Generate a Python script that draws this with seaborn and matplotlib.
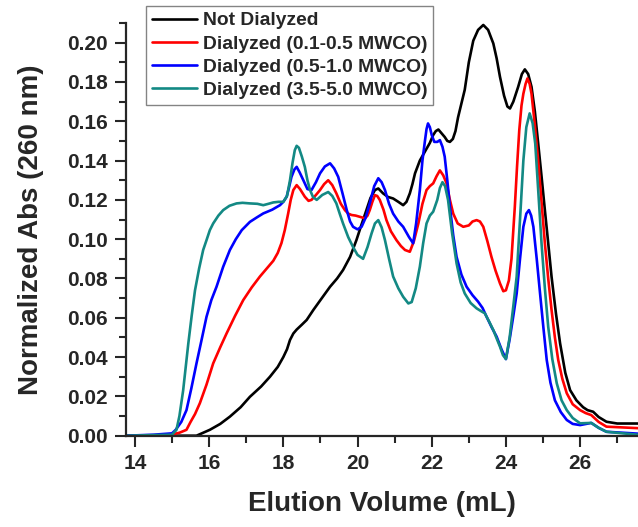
import numpy as np
import pandas as pd
import matplotlib
matplotlib.use("Agg")
import matplotlib.pyplot as plt
import seaborn as sns
from matplotlib.ticker import MultipleLocator, FormatStrFormatter

# ---- data ----
black_x = [13.76, 15.4, 15.66, 16.02, 16.3, 16.56, 16.85, 17.1, 17.4, 17.64, 17.85, 18.0, 18.1, 18.18,
           18.27, 18.36, 18.5, 18.63, 18.81, 19.0, 19.26, 19.45, 19.61, 19.8, 19.97, 20.1, 20.24, 20.35,
           20.47, 20.56, 20.69, 20.82, 20.96, 21.1, 21.23, 21.32, 21.41, 21.48, 21.55, 21.68, 21.77,
           21.86, 21.95, 22.04, 22.11, 22.18, 22.26, 22.35, 22.42, 22.49, 22.57, 22.64, 22.71, 22.8,
           22.89, 23.0, 23.12, 23.25, 23.39, 23.52, 23.66, 23.75, 23.84, 23.95, 24.04, 24.11, 24.2,
           24.33, 24.43, 24.51, 24.6, 24.69, 24.78, 24.87, 24.96, 25.05, 25.14, 25.23, 25.35, 25.46,
           25.6, 25.73, 25.9, 26.08, 26.2, 26.35, 26.5, 26.71, 27.0, 27.6]
black_y = [0, 0, 0, 0.003, 0.006, 0.0097, 0.0145, 0.0198, 0.025, 0.030, 0.035, 0.040, 0.044, 0.0487,
           0.052, 0.054, 0.0565, 0.0589, 0.064, 0.069, 0.0758, 0.080, 0.0843, 0.091, 0.0995, 0.107,
           0.1148, 0.121, 0.125, 0.1258, 0.1233, 0.1215, 0.1207, 0.119, 0.1173, 0.119, 0.1233, 0.128,
           0.1335, 0.140, 0.143, 0.146, 0.149, 0.153, 0.155, 0.1558, 0.154, 0.152, 0.150, 0.1495,
           0.151, 0.155, 0.162, 0.169, 0.176, 0.190, 0.201, 0.2065, 0.209, 0.2065, 0.1996, 0.192,
           0.1826, 0.173, 0.1675, 0.1665, 0.170, 0.1775, 0.184, 0.1864, 0.184, 0.1775, 0.165, 0.1487,
           0.132, 0.1148, 0.098, 0.0809, 0.062, 0.047, 0.032, 0.0232, 0.018, 0.0145, 0.013, 0.0122,
           0.0095, 0.0071, 0.0062, 0.0062]

red_x = [13.76, 15.0, 15.08, 15.2, 15.39, 15.5, 15.62, 15.75, 15.93, 16.11, 16.3, 16.47, 16.7, 16.92,
         17.15, 17.37, 17.55, 17.73, 17.85, 17.95, 18.04, 18.13, 18.2, 18.27, 18.36, 18.45, 18.58,
         18.68, 18.76, 18.88, 18.99, 19.1, 19.21, 19.32, 19.43, 19.55, 19.66, 19.75, 19.84, 19.95,
         20.06, 20.2, 20.27, 20.33, 20.4, 20.47, 20.53, 20.6, 20.7, 20.78, 20.9, 21.05, 21.17, 21.28,
         21.41, 21.52, 21.64, 21.75, 21.86, 21.95, 22.04, 22.13, 22.22, 22.31, 22.4, 22.49, 22.58,
         22.7, 22.85, 23.0, 23.1, 23.21, 23.3, 23.39, 23.5, 23.61, 23.72, 23.84, 23.93, 24.0, 24.08,
         24.15, 24.24, 24.3, 24.36, 24.42, 24.47, 24.53, 24.58, 24.64, 24.69, 24.78, 24.87, 24.96,
         25.05, 25.14, 25.23, 25.32, 25.41, 25.52, 25.64, 25.8, 26.0, 26.15, 26.3, 26.5, 26.71, 27.6]
red_y = [0, 0, 0.001, 0.0015, 0.003, 0.007, 0.011, 0.0165, 0.026, 0.0368, 0.045, 0.052, 0.061, 0.069,
         0.0755, 0.081, 0.085, 0.089, 0.093, 0.098, 0.1046, 0.113, 0.120, 0.125, 0.1275, 0.1255,
         0.1216, 0.1195, 0.12, 0.1225, 0.125, 0.128, 0.130, 0.1275, 0.1233, 0.118, 0.1148, 0.113,
         0.1123, 0.112, 0.1114, 0.1106, 0.112, 0.1148, 0.119, 0.1224, 0.122, 0.12, 0.115, 0.1097,
         0.104, 0.0995, 0.0965, 0.0945, 0.0936, 0.099, 0.108, 0.118, 0.125, 0.127, 0.1284, 0.132,
         0.135, 0.1325, 0.1284, 0.120, 0.113, 0.108, 0.1063, 0.107, 0.109, 0.1097, 0.109, 0.1063,
         0.099, 0.091, 0.084, 0.0775, 0.0735, 0.074, 0.079, 0.090, 0.1165, 0.137, 0.1555, 0.168,
         0.174, 0.179, 0.1818, 0.179, 0.174, 0.158, 0.140, 0.119, 0.0979, 0.080, 0.064, 0.050, 0.0385,
         0.029, 0.0216, 0.016, 0.013, 0.0115, 0.0105, 0.007, 0.0046, 0.0038]

blue_x = [13.76, 14.5, 15.0, 15.1, 15.25, 15.39, 15.52, 15.66, 15.8, 15.93, 16.06, 16.2, 16.38, 16.56,
          16.72, 16.88, 17.1, 17.28, 17.46, 17.7, 17.91, 18.0, 18.09, 18.15, 18.22, 18.3, 18.36, 18.44,
          18.54, 18.65, 18.76, 18.88, 18.99, 19.12, 19.26, 19.37, 19.48, 19.6, 19.71, 19.8, 19.88,
          20.0, 20.11, 20.22, 20.33, 20.45, 20.56, 20.65, 20.74, 20.85, 20.96, 21.1, 21.23, 21.39,
          21.5, 21.58, 21.68, 21.75, 21.82, 21.86, 21.9, 21.95, 22.0, 22.07, 22.15, 22.22, 22.29,
          22.35, 22.42, 22.49, 22.58, 22.67, 22.8, 22.94, 23.1, 23.25, 23.37, 23.48, 23.62, 23.75,
          23.88, 24.0, 24.1, 24.2, 24.29, 24.38, 24.47, 24.55, 24.62, 24.68, 24.74, 24.83, 24.92,
          25.01, 25.1, 25.2, 25.32, 25.48, 25.64, 25.8, 26.0, 26.3, 26.5, 26.71, 27.6]
blue_y = [0, 0.0005, 0.0012, 0.003, 0.007, 0.013, 0.024, 0.0368, 0.049, 0.0605, 0.069, 0.0758, 0.086,
          0.0945, 0.100, 0.1046, 0.1088, 0.111, 0.1131, 0.115, 0.1173, 0.119, 0.1216, 0.126, 0.1317,
          0.1355, 0.1368, 0.134, 0.130, 0.1255, 0.125, 0.129, 0.1335, 0.137, 0.1386, 0.136, 0.1317,
          0.123, 0.1148, 0.109, 0.1063, 0.105, 0.1063, 0.111, 0.1182, 0.127, 0.131, 0.129, 0.125,
          0.118, 0.113, 0.109, 0.1063, 0.101, 0.0979, 0.108, 0.125, 0.140, 0.1504, 0.156, 0.1589,
          0.157, 0.153, 0.1495, 0.1495, 0.1504, 0.147, 0.142, 0.130, 0.1165, 0.102, 0.091, 0.082,
          0.0758, 0.0715, 0.0682, 0.065, 0.0605, 0.055, 0.0504, 0.044, 0.039, 0.049, 0.061, 0.0724,
          0.090, 0.1063, 0.113, 0.1148, 0.112, 0.1063, 0.090, 0.0724, 0.055, 0.0385, 0.027, 0.018,
          0.012, 0.008, 0.006, 0.0054, 0.0065, 0.004, 0.002, 0.001]

teal_x = [13.76, 15.0, 15.12, 15.2, 15.3, 15.37, 15.44, 15.53, 15.62, 15.73, 15.84, 15.93, 16.02,
          16.11, 16.25, 16.38, 16.55, 16.74, 16.9, 17.1, 17.3, 17.46, 17.6, 17.73, 17.87, 18.0, 18.1,
          18.18, 18.25, 18.31, 18.36, 18.42, 18.5, 18.58, 18.65, 18.72, 18.8, 18.9, 19.05, 19.21,
          19.32, 19.43, 19.52, 19.61, 19.75, 19.88, 20.0, 20.15, 20.27, 20.38, 20.47, 20.56, 20.65,
          20.74, 20.85, 20.96, 21.1, 21.23, 21.37, 21.46, 21.57, 21.68, 21.77, 21.86, 21.95, 22.04,
          22.15, 22.22, 22.29, 22.36, 22.44, 22.55, 22.67, 22.78, 22.89, 23.05, 23.21, 23.32, 23.43,
          23.55, 23.66, 23.75, 23.84, 23.92, 24.0, 24.1, 24.2, 24.29, 24.38, 24.47, 24.55, 24.64,
          24.72, 24.79, 24.87, 24.96, 25.05, 25.14, 25.25, 25.37, 25.5, 25.64, 25.8, 26.0, 26.3,
          26.5, 26.71, 27.6]
teal_y = [0, 0.0005, 0.003, 0.010, 0.023, 0.035, 0.047, 0.061, 0.074, 0.085, 0.0945, 0.0995, 0.1046,
          0.108, 0.112, 0.1148, 0.117, 0.1182, 0.1185, 0.1182, 0.118, 0.1173, 0.118, 0.1187, 0.119,
          0.119, 0.122, 0.130, 0.139, 0.1453, 0.1475, 0.1465, 0.142, 0.1368, 0.130, 0.125, 0.1215,
          0.12, 0.1225, 0.124, 0.122, 0.1182, 0.113, 0.108, 0.101, 0.096, 0.092, 0.090, 0.096, 0.103,
          0.108, 0.1097, 0.106, 0.0995, 0.090, 0.081, 0.075, 0.0707, 0.0673, 0.068, 0.075, 0.086,
          0.098, 0.108, 0.112, 0.114, 0.120, 0.126, 0.129, 0.127, 0.12, 0.103, 0.0877, 0.078, 0.0724,
          0.0675, 0.0648, 0.0635, 0.0623, 0.058, 0.0538, 0.0495, 0.0453, 0.041, 0.039, 0.050, 0.066,
          0.081, 0.110, 0.140, 0.157, 0.164, 0.159, 0.1487, 0.125, 0.0979, 0.075, 0.0554, 0.039,
          0.0267, 0.018, 0.013, 0.009, 0.0063, 0.0065, 0.004, 0.002, 0.0004]

labels = ["Not Dialyzed", "Dialyzed (0.1-0.5 MWCO)", "Dialyzed (0.5-1.0 MWCO)", "Dialyzed (3.5-5.0 MWCO)"]
colors = ["#000000", "#ff0000", "#0000ff", "#138984"]
xticks = [14, 16, 18, 20, 22, 24, 26]
yticks = [0.00, 0.02, 0.04, 0.06, 0.08, 0.10, 0.12, 0.14, 0.16, 0.18, 0.20]

series = [(black_x, black_y), (red_x, red_y), (blue_x, blue_y), (teal_x, teal_y)]
frames = []
for lab, (xs, ys) in zip(labels, series):
    frames.append(pd.DataFrame({"x": xs, "y": ys, "series": lab}))
df = pd.concat(frames, ignore_index=True)

sns.set_style("ticks")
plt.rcParams["font.family"] = ["Liberation Sans", "DejaVu Sans"]
plt.rcParams["font.weight"] = "bold"

fig = plt.figure(figsize=(6.38, 5.27), dpi=100)
ax = fig.add_axes([126 / 638, 1 - 435.7 / 527, 1 - 126 / 638, (435.7 - 23) / 527])

for lab, col in zip(labels, colors):
    sub = df[df["series"] == lab]
    sns.lineplot(data=sub, x="x", y="y", ax=ax, color=col, linewidth=1.9, label=lab,
                 sort=False, estimator=None)
for ln in ax.get_lines():
    ln.set_solid_joinstyle("round")
    ln.set_solid_capstyle("round")

ax.set_xlim(13.76, 27.56)
ax.set_ylim(0, 0.21)
ax.set_xticks(xticks)
ax.set_yticks(yticks)
ax.xaxis.set_minor_locator(MultipleLocator(1))
ax.yaxis.set_minor_locator(MultipleLocator(0.01))
ax.yaxis.set_major_formatter(FormatStrFormatter("%.2f"))
for s in ["top", "right"]:
    ax.spines[s].set_visible(False)
for s in ["left", "bottom"]:
    ax.spines[s].set_linewidth(1.6)
ax.tick_params(which="major", length=8, width=1.5, direction="out", labelsize=15, pad=5)
ax.tick_params(which="minor", length=5, width=1.5, direction="out")
for t in ax.get_xticklabels() + ax.get_yticklabels():
    t.set_fontweight("bold")

ax.set_xlabel("Elution Volume (mL)", fontsize=20, fontweight="bold", labelpad=13)
ax.set_ylabel("Normalized Abs (260 nm)", fontsize=20, fontweight="bold", labelpad=17)

leg = ax.legend(loc="upper left", bbox_to_anchor=(146 / 638, 1 - 6 / 527),
                bbox_transform=fig.transFigure, borderaxespad=0, frameon=True,
                fancybox=False, prop={"weight": "bold", "size": 13.9},
                handlelength=2.35, handletextpad=0.3, labelspacing=0.3,
                borderpad=0.3)
leg.get_frame().set_edgecolor("#666666")
leg.get_frame().set_linewidth(1.0)
for line in leg.get_lines():
    line.set_linewidth(1.9)

fig.savefig("out.png", dpi=100)
